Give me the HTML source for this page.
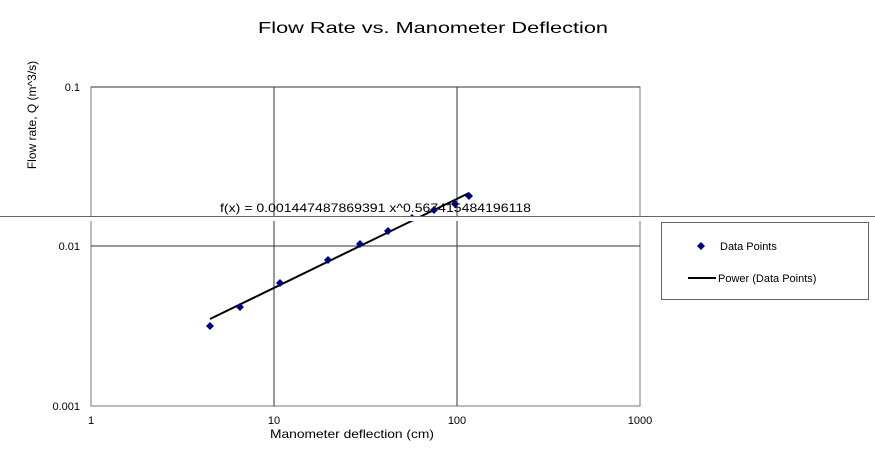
<!DOCTYPE html>
<html><head><style>
body{margin:0;background:#fff;}
svg text{font-family:"Liberation Sans",sans-serif;fill:#000;}
</style></head><body>
<svg width="875" height="468" xmlns="http://www.w3.org/2000/svg">
<rect width="875" height="468" fill="#fff"/>
<text x="258" y="33" font-size="16" textLength="350" lengthAdjust="spacingAndGlyphs">Flow Rate vs. Manometer Deflection</text>
<rect x="91" y="87" width="549" height="319" fill="none" stroke="#777" stroke-width="1"/>
<g stroke="#333" stroke-width="1">
<line x1="274" y1="87" x2="274" y2="406"/>
<line x1="457" y1="87" x2="457" y2="406"/>
<line x1="91" y1="246" x2="640" y2="246"/>
<line x1="91" y1="87" x2="640" y2="87"/>
</g>
<g font-size="11">
<text x="80" y="91" text-anchor="end">0.1</text>
<text x="80" y="250" text-anchor="end">0.01</text>
<text x="80" y="410" text-anchor="end">0.001</text>
<text x="91" y="424" text-anchor="middle">1</text>
<text x="274" y="424" text-anchor="middle">10</text>
<text x="457" y="424" text-anchor="middle">100</text>
<text x="640" y="424" text-anchor="middle">1000</text>
</g>
<text x="270" y="438" font-size="12" textLength="164" lengthAdjust="spacingAndGlyphs">Manometer deflection (cm)</text>
<text transform="translate(36,115) rotate(-90)" font-size="12" text-anchor="middle">Flow rate, Q (m^3/s)</text>
<line x1="210" y1="319" x2="469" y2="193" stroke="#000" stroke-width="2"/>
<g fill="#00008b">
<path d="M210 322l4 4-4 4-4-4z"/><path d="M240 303l4 4-4 4-4-4z"/><path d="M280 279l4 4-4 4-4-4z"/>
<path d="M328 256l4 4-4 4-4-4z"/><path d="M360 240l4 4-4 4-4-4z"/><path d="M388 227l4 4-4 4-4-4z"/>
<path d="M412 214l4 4-4 4-4-4z"/><path d="M434 206l4 4-4 4-4-4z"/><path d="M455 200l4 4-4 4-4-4z"/><path d="M469 192l4 4-4 4-4-4z"/>
</g>
<text x="220" y="212" font-size="12" textLength="311" lengthAdjust="spacingAndGlyphs">f(x) = 0.001447487869391 x^0.567415484196118</text>
<rect x="0" y="217" width="875" height="4" fill="#fff"/>
<line x1="0" y1="216.5" x2="875" y2="216.5" stroke="#666" stroke-width="1"/>
<rect x="661.5" y="222.5" width="207" height="77" fill="#fff" stroke="#666"/>
<path d="M701 242l4 4-4 4-4-4z" fill="#00008b"/>
<text x="720" y="250" font-size="11">Data Points</text>
<line x1="688" y1="278" x2="716" y2="278" stroke="#000" stroke-width="2"/>
<text x="718" y="282" font-size="11">Power (Data Points)</text>
</svg>
</body></html>
